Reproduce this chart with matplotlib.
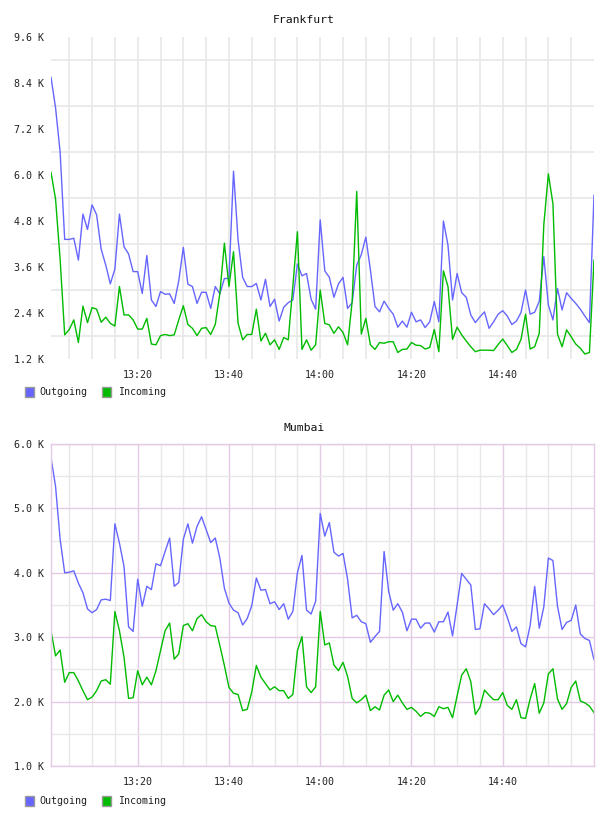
import numpy as np
import pandas as pd
import matplotlib
matplotlib.use("Agg")
import matplotlib.pyplot as plt
import matplotlib.dates as mdates
from matplotlib.patches import Rectangle

# ---------------- data ----------------
start_time = "2024-01-01 13:01:00"
n_points = 120
major_tick_times = ["13:20", "13:40", "14:00", "14:20", "14:40"]

frankfurt_outgoing = [
    8.55, 7.75, 6.6, 4.32, 4.32, 4.35, 3.78, 4.98, 4.58, 5.22,
    4.96, 4.06, 3.65, 3.16, 3.55, 4.98, 4.13, 3.94, 3.48, 3.48,
    2.91, 3.9, 2.74, 2.57, 2.96, 2.89, 2.9, 2.65, 3.24, 4.11,
    3.15, 3.09, 2.65, 2.94, 2.94, 2.52, 3.09, 2.9, 3.3, 3.3,
    6.1, 4.3, 3.33, 3.09, 3.09, 3.17, 2.74, 3.28, 2.57, 2.76,
    2.19, 2.55, 2.67, 2.74, 3.68, 3.37, 3.43, 2.76, 2.5, 4.83,
    3.5, 3.33, 2.81, 3.16, 3.33, 2.52, 2.67, 3.65, 3.92, 4.38,
    3.52, 2.57, 2.43, 2.71, 2.52, 2.37, 2.03, 2.19, 2.03, 2.42,
    2.17, 2.22, 2.02, 2.17, 2.7, 2.17, 4.8, 4.17, 2.74, 3.43,
    2.93, 2.81, 2.35, 2.15, 2.3, 2.43, 2.0, 2.17, 2.37, 2.46,
    2.32, 2.1, 2.19, 2.41, 3.0, 2.37, 2.42, 2.7, 3.87, 2.61,
    2.22, 3.04, 2.48, 2.93, 2.78, 2.65, 2.5, 2.32, 2.15, 5.47,
]
frankfurt_incoming = [
    6.07, 5.37, 3.8, 1.83, 1.97, 2.22, 1.63, 2.58, 2.15, 2.54,
    2.5, 2.16, 2.29, 2.13, 2.06, 3.09, 2.35, 2.35, 2.22, 1.98,
    1.98, 2.26, 1.59, 1.57, 1.81, 1.84, 1.81, 1.83, 2.22, 2.59,
    2.1, 2.0, 1.81, 2.0, 2.02, 1.84, 2.1, 2.91, 4.22, 3.09,
    4.0, 2.13, 1.7, 1.84, 1.84, 2.5, 1.67, 1.87, 1.57, 1.7,
    1.45, 1.76, 1.7, 3.1, 4.52, 1.45, 1.7, 1.43, 1.57, 3.0,
    2.13, 2.09, 1.87, 2.04, 1.89, 1.57, 2.7, 5.57, 1.85, 2.26,
    1.57, 1.45, 1.63, 1.61, 1.65, 1.65, 1.37, 1.45, 1.46, 1.63,
    1.56, 1.55, 1.46, 1.5, 1.97, 1.39, 3.5, 3.09, 1.71, 2.03,
    1.83, 1.67, 1.52, 1.39, 1.43, 1.43, 1.43, 1.42, 1.58, 1.72,
    1.55, 1.37, 1.45, 1.71, 2.37, 1.46, 1.52, 1.87, 4.7, 6.03,
    5.25, 1.85, 1.52, 1.96, 1.78, 1.59, 1.48, 1.33, 1.37, 3.78,
]
mumbai_outgoing = [
    5.79, 5.34, 4.52, 4.0, 4.01, 4.03, 3.84, 3.69, 3.44, 3.38,
    3.43, 3.58, 3.59, 3.57, 4.76, 4.46, 4.1, 3.16, 3.09, 3.9,
    3.48, 3.79, 3.74, 4.14, 4.11, 4.33, 4.54, 3.79, 3.85, 4.52,
    4.76, 4.46, 4.72, 4.87, 4.67, 4.47, 4.54, 4.23, 3.76, 3.53,
    3.42, 3.38, 3.19, 3.29, 3.49, 3.92, 3.73, 3.74, 3.52, 3.55,
    3.43, 3.52, 3.28, 3.4, 4.0, 4.27, 3.42, 3.36, 3.56, 4.92,
    4.57, 4.78, 4.32, 4.26, 4.3, 3.9, 3.3, 3.34, 3.24, 3.21,
    2.92, 3.01, 3.09, 4.33, 3.71, 3.42, 3.52, 3.39, 3.1, 3.28,
    3.28, 3.14, 3.22, 3.22, 3.08, 3.24, 3.24, 3.39, 3.02, 3.5,
    3.99, 3.9, 3.81, 3.12, 3.13, 3.52, 3.44, 3.35, 3.42, 3.5,
    3.31, 3.09, 3.16, 2.9, 2.85, 3.18, 3.79, 3.14, 3.47, 4.23,
    4.19, 3.48, 3.12, 3.23, 3.26, 3.5, 3.05, 2.98, 2.95, 2.65,
]
mumbai_incoming = [
    3.1, 2.71, 2.8, 2.3, 2.45, 2.45, 2.32, 2.17, 2.03, 2.07,
    2.17, 2.32, 2.34, 2.27, 3.4, 3.1, 2.69, 2.05, 2.06, 2.48,
    2.26, 2.38, 2.26, 2.48, 2.79, 3.1, 3.22, 2.66, 2.74, 3.18,
    3.21, 3.1, 3.29, 3.35, 3.24, 3.18, 3.17, 2.87, 2.56, 2.22,
    2.13, 2.11, 1.86, 1.88, 2.15, 2.56, 2.38, 2.28, 2.18, 2.23,
    2.17, 2.17, 2.05, 2.11, 2.79, 3.01, 2.23, 2.14, 2.23, 3.4,
    2.88, 2.91, 2.57, 2.48, 2.61, 2.39, 2.05, 1.98, 2.03, 2.1,
    1.86, 1.92, 1.87, 2.1, 2.18, 2.0, 2.1, 1.98, 1.88, 1.91,
    1.85, 1.77, 1.83, 1.82, 1.77, 1.92, 1.89, 1.91, 1.75, 2.09,
    2.41, 2.51, 2.31, 1.8, 1.91, 2.18, 2.1, 2.03, 2.03, 2.14,
    1.94, 1.88, 2.03, 1.75, 1.74, 2.04, 2.28, 1.82, 1.98, 2.43,
    2.51, 2.04, 1.88, 1.97, 2.22, 2.32, 2.01, 1.98, 1.93, 1.83,
]

titles = ["Frankfurt", "Mumbai"]
series_names = ["Outgoing", "Incoming"]
frankfurt_yticks = [1.2, 2.4, 3.6, 4.8, 6.0, 7.2, 8.4, 9.6]
mumbai_yticks = [1.0, 2.0, 3.0, 4.0, 5.0, 6.0]

# ---------------- style ----------------
BLUE = "#6666ff"
GREEN = "#00bb00"
GRID = "#e8e8e8"
PINK = "#e3cbe3"
TXT = "#222222"
FONT = "DejaVu Sans Mono"

W, H = 608, 816
fig = plt.figure(figsize=(W / 100, H / 100), dpi=100)
fig.patch.set_facecolor("white")

times = pd.date_range(start_time, periods=n_points, freq="1min")
day = times[0].strftime("%Y-%m-%d")
major_ts = [pd.Timestamp(f"{day} {t}") for t in major_tick_times]
minor_ts = [t for t in pd.date_range(times[0].floor("5min"), times[-1], freq="5min")
            if times[0] < t < times[-1] and t not in major_ts]


def px_axes(left, top, right, bottom):
    return fig.add_axes([left / W, 1 - bottom / H, (right - left) / W, (bottom - top) / H])


def fig_text(x, y, s, **kw):
    fig.text(x / W, 1 - y / H, s, family=FONT, **kw)


def draw_legend(y_center):
    for bx, tx, col, name in [(25, 39, BLUE, series_names[0]), (102, 118, GREEN, series_names[1])]:
        fig.add_artist(Rectangle((bx / W, 1 - (y_center + 5) / H), 9 / W, 10 / H,
                                 transform=fig.transFigure, facecolor=col,
                                 edgecolor="#999999", linewidth=1.0))
        fig_text(tx, y_center, name, fontsize=7.2, color=TXT, va="center", ha="left")


def setup(ax, yticks, ylim, pink):
    ax.set_xlim(times[0], times[-1])
    ax.set_ylim(*ylim)
    ax.set_yticks(yticks)
    ax.set_yticklabels([f"{v:.1f} K" for v in yticks])
    step = yticks[1] - yticks[0]
    ax.set_yticks([v + step / 2 for v in yticks[:-1]], minor=True)
    ax.set_xticks(mdates.date2num(major_ts))
    ax.set_xticks(mdates.date2num(minor_ts), minor=True)
    ax.xaxis.set_major_formatter(mdates.DateFormatter("%H:%M"))
    ax.tick_params(which="both", length=0)
    ax.tick_params(axis="y", pad=5, labelsize=7.2, labelcolor=TXT)
    ax.tick_params(axis="x", pad=8, labelsize=7.2, labelcolor=TXT)
    for lab in ax.get_xticklabels() + ax.get_yticklabels():
        lab.set_family(FONT)
    ax.set_axisbelow(True)
    if pink:
        ax.grid(True, which="minor", color=GRID, linewidth=1.0)
        ax.grid(True, which="major", color=PINK, linewidth=1.0)
        for sp in ax.spines.values():
            sp.set_color(PINK)
            sp.set_linewidth(1.0)
    else:
        ax.grid(True, which="minor", color=GRID, linewidth=1.2)
        ax.grid(True, which="major", axis="x", color=GRID, linewidth=1.2)
        for sp in ax.spines.values():
            sp.set_visible(False)


# Frankfurt
ax1 = px_axes(51, 37, 594, 359)
setup(ax1, frankfurt_yticks, (1.2, 9.6), pink=False)
ax1.plot(times, frankfurt_outgoing, color=BLUE, lw=1.0)
ax1.plot(times, frankfurt_incoming, color=GREEN, lw=1.0)
fig_text(304, 20, titles[0], fontsize=8.2, color="#111111", ha="center", va="center")
draw_legend(392)

# Mumbai
ax2 = px_axes(51, 444, 594, 766)
setup(ax2, mumbai_yticks, (1.0, 6.0), pink=True)
ax2.plot(times, mumbai_outgoing, color=BLUE, lw=1.0)
ax2.plot(times, mumbai_incoming, color=GREEN, lw=1.0)
fig_text(304, 428, titles[1], fontsize=8.2, color="#111111", ha="center", va="center")
draw_legend(801)

fig.savefig("out.png", dpi=100, facecolor="white")
